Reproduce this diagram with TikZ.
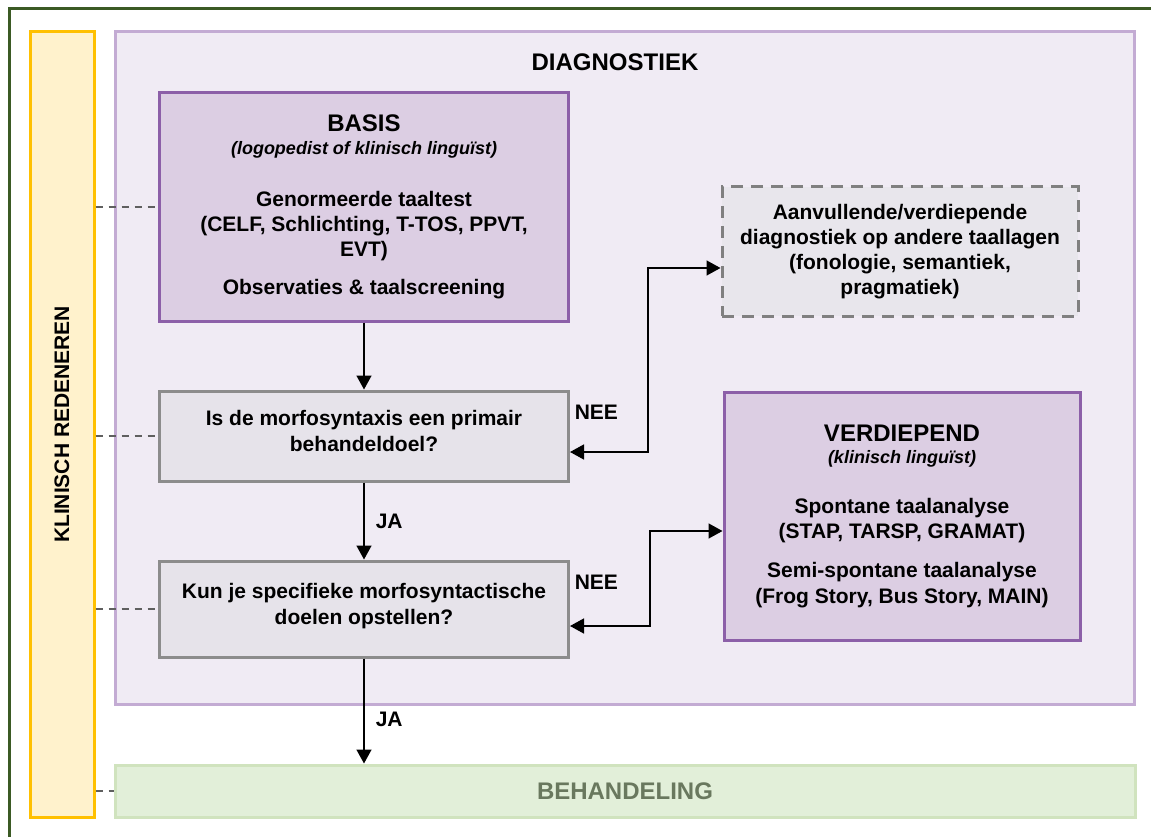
\documentclass[tikz,border=0pt]{standalone}
\usepackage{fontspec}
\setmainfont{Liberation Sans}
\usepackage{tikz}
\usetikzlibrary{arrows.meta}

\definecolor{framegreen}{HTML}{3B5A24}
\definecolor{gelefill}{HTML}{FFF2CC}
\definecolor{geleline}{HTML}{FFC000}
\definecolor{kaderfill}{HTML}{F0EBF4}
\definecolor{kaderline}{HTML}{C3ABD3}
\definecolor{basisfill}{HTML}{DCCEE3}
\definecolor{basisline}{HTML}{8C5FA8}
\definecolor{vraagfill}{HTML}{E6E3EA}
\definecolor{vraagline}{HTML}{8C8C8C}
\definecolor{extrafill}{HTML}{E8E6EC}
\definecolor{extraline}{HTML}{808080}
\definecolor{groenfill}{HTML}{E2EFD9}
\definecolor{groenline}{HTML}{D0E3BE}
\definecolor{groentext}{HTML}{69785E}
\definecolor{linkgrey}{HTML}{5F5F5F}

\begin{document}
\begin{tikzpicture}[x=1pt, y=-1pt,
    >={Triangle[length=14pt, width=15pt]},
    box/.style={draw, line width=3pt, align=center, inner sep=0pt,
      font=\fontsize{21}{25.2}\selectfont\bfseries},
    purplebox/.style={box, fill=basisfill, draw=basisline},
    questionbox/.style={box, fill=vraagfill, draw=vraagline,
      minimum width=409pt},
    extrabox/.style={box, fill=extrafill, draw=extraline,
      dash pattern=on 12pt off 8pt},
    flow/.style={->, line width=1.5pt},
    linkline/.style={draw=linkgrey, line width=1.5pt,
      dash pattern=on 7pt off 6pt},
    edgetext/.style={inner sep=0pt,
      font=\fontsize{21}{25.2}\selectfont\bfseries}
  ]
    \useasboundingbox (0,0) rectangle (1151,837);

    % Outer frame (cut off at the right and the bottom)
    \draw[framegreen, line width=3pt] (9,837) |- (1151,9);

    % Klinisch redeneren
    \node[draw=geleline, fill=gelefill, line width=3pt, inner sep=0pt,
      minimum width=64pt, minimum height=785pt] (redeneren) at (62,424.5)
      {\rotatebox{90}{\fontsize{21}{25.2}\selectfont\bfseries KLINISCH REDENEREN}};

    % Diagnostiek
    \node[draw=kaderline, fill=kaderfill, line width=3pt,
      minimum width=1019pt, minimum height=672pt] (diagnostiek) at (624.5,368) {};
    \node[edgetext, font=\fontsize{24}{28.8}\selectfont\bfseries] (titel) at (615,62) {DIAGNOSTIEK};

    \node[purplebox, minimum width=409pt, minimum height=228pt] (basis) at (364,207)
      {{\fontsize{24}{28.8}\selectfont BASIS}\\[-2pt]
       {\fontsize{18}{21.6}\selectfont\itshape (logopedist of klinisch linguïst)}\\[26pt]
       Genormeerde taaltest\\
       (CELF, Schlichting, T-TOS, PPVT,\\
       EVT)\\[13pt]
       Observaties \& taalscreening};

    \node[questionbox, minimum height=90pt] (q1) at (364,436)
      {Is de morfosyntaxis een primair\\ behandeldoel?\\[-15pt]};
    \node[questionbox, minimum height=96pt] (q2) at (364,609)
      {Kun je specifieke morfosyntactische\\ doelen opstellen?\\[-15pt]};

    \node[extrabox, minimum width=356pt, minimum height=129pt] (aanvullend) at (900,251.5)
      {Aanvullende/verdiepende\\ diagnostiek op andere taallagen\\
       (fonologie, semantiek,\\ pragmatiek)};

    \node[purplebox, minimum width=356pt, minimum height=248pt] (verdiepend) at (902,516)
      {{\fontsize{24}{28.8}\selectfont VERDIEPEND}\\[-3pt]
       {\fontsize{18}{21.6}\selectfont\itshape (klinisch linguïst)}\\[25pt]
       Spontane taalanalyse\\
       (STAP, TARSP, GRAMAT)\\[14pt]
       Semi-spontane taalanalyse\\
       (Frog Story, Bus Story, MAIN)};

    % Behandeling
    \node[draw=groenline, fill=groenfill, line width=3pt, text=groentext,
      font=\fontsize{24}{28.8}\selectfont\bfseries,
      minimum width=1020pt, minimum height=52pt] (behandeling) at (625,791) {BEHANDELING};

    % Dashed links to the bar
    \foreach \n in {basis, q1, q2, behandeling}
      \draw[linkline] (\n.west -| redeneren.east) -- (\n.west);

    % Flow
    \draw[flow] (basis) -- (q1);
    \draw[flow] (q1) -- node[edgetext, right=11pt] {JA} (q2);
    \draw[flow] (q2.south) -- node[edgetext, right=11pt, pos=0.58] {JA}
      (q2.south |- behandeling.north);

    \draw[<->, line width=1.5pt] ([yshift=-16pt]q1.east)
      node[edgetext, anchor=west, xshift=4pt, yshift=40pt] {NEE}
      -- ++(78,0) |- ([yshift=-16.5pt]aanvullend.west);
    \draw[<->, line width=1.5pt] ([yshift=-17pt]q2.east)
      node[edgetext, anchor=west, xshift=4pt, yshift=44pt] {NEE}
      -- ++(80,0) |- ([yshift=-15pt]verdiepend.west);
\end{tikzpicture}
\end{document}
